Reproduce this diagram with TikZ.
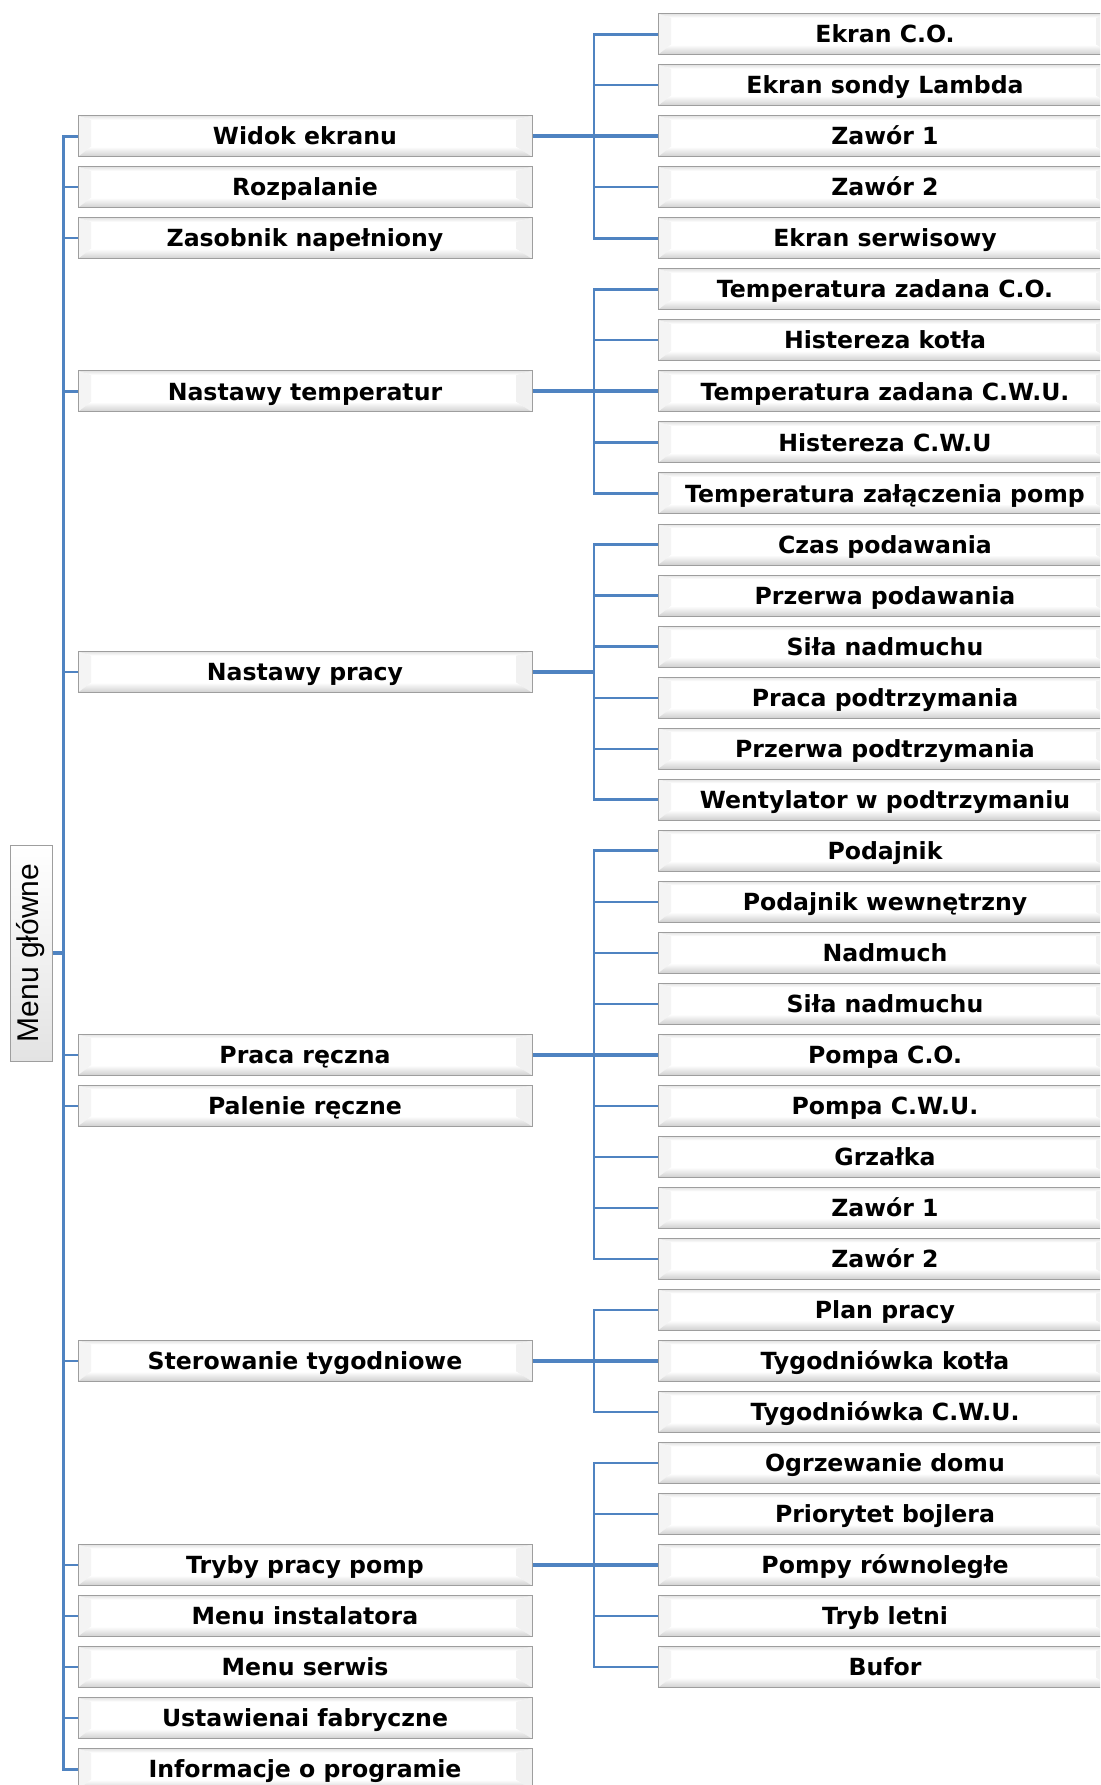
\documentclass[tikz,border=0pt]{standalone}
\usepackage{fontspec}
\setmainfont{DejaVu Sans}
\newfontfamily\menufont{Liberation Sans}
\usetikzlibrary{calc}
\definecolor{linkblue}{RGB}{79,131,193}
\definecolor{boxborder}{RGB}{158,158,158}
\tikzset{
  bevel/.style={draw=boxborder, line width=0.5pt, fill=white, minimum height=20.5pt,
    inner sep=0pt, text height=8.6pt, text depth=0pt, text=black,
    font=\fontsize{11.8}{14}\selectfont\bfseries,
    path picture={
      \path (path picture bounding box.north west) coordinate (pNW)
            (path picture bounding box.north east) coordinate (pNE)
            (path picture bounding box.south west) coordinate (pSW)
            (path picture bounding box.south east) coordinate (pSE);
      \fill[gray!9] (pNW) -- ($(pNW)+(6.5pt,-2pt)$) -- ($(pSW)+(6.5pt,5pt)$) -- (pSW) -- cycle;
      \fill[gray!11] (pNE) -- ($(pNE)+(-8pt,-2pt)$) -- ($(pSE)+(-8pt,5pt)$) -- (pSE) -- cycle;
      \shade[top color=gray!22, bottom color=white] (pNW) -- (pNE) -- ($(pNE)+(-8pt,-2pt)$) -- ($(pNW)+(6.5pt,-2pt)$) -- cycle;
      \shade[top color=white, bottom color=gray!38] (pSW) -- ($(pSW)+(6.5pt,5pt)$) -- ($(pSE)+(-8pt,5pt)$) -- (pSE) -- cycle;
    }},
  leftbox/.style={bevel, minimum width=227pt},
  rightbox/.style={bevel, minimum width=227pt},
  menubox/.style={draw=boxborder, line width=0.5pt, inner sep=0pt,
    minimum width=108pt, minimum height=21pt, top color=white, bottom color=gray!22,
    font=\menufont\fontsize{15}{18}\selectfont, text=black},
  thinlink/.style={draw=linkblue, line width=1.1pt},
  trunklink/.style={draw=linkblue, line width=1.3pt},
  thicklink/.style={draw=linkblue, line width=2pt},
}
\begin{document}
\begin{tikzpicture}[x=0.5pt,y=-0.5pt]
\useasboundingbox (0,0) rectangle (1100,1785);
\clip (0,0) rectangle (1100,1785);
\fill[white] (0,0) rectangle (1100,1785);
\coordinate (lt) at (63.5,0);
\coordinate (rt) at (594,0);
% right column
\foreach \i/\t in {0/Ekran C.O., 1/Ekran sondy Lambda, 2/Zawór 1, 3/Zawór 2, 4/Ekran serwisowy,
  5/Temperatura zadana C.O., 6/Histereza kotła, 7/Temperatura zadana C.W.U., 8/Histereza C.W.U,
  9/Temperatura załączenia pomp, 10/Czas podawania, 11/Przerwa podawania, 12/Siła nadmuchu,
  13/Praca podtrzymania, 14/Przerwa podtrzymania, 15/Wentylator w podtrzymaniu, 16/Podajnik,
  17/Podajnik wewnętrzny, 18/Nadmuch, 19/Siła nadmuchu, 20/Pompa C.O., 21/Pompa C.W.U.,
  22/Grzałka, 23/Zawór 1, 24/Zawór 2, 25/Plan pracy, 26/Tygodniówka kotła,
  27/Tygodniówka C.W.U., 28/Ogrzewanie domu, 29/Priorytet bojlera, 30/Pompy równoległe,
  31/Tryb letni, 32/Bufor}
  \node[rightbox] (r\i) at (885,{34.2+51.03*\i}) {\t};
% left column
\foreach \i/\n/\t in {2/l2/Widok ekranu, 3/l3/Rozpalanie, 4/l4/Zasobnik napełniony,
  7/l7/Nastawy temperatur, 12.5/lnp/Nastawy pracy, 20/l20/Praca ręczna,
  21/l21/Palenie ręczne, 26/l26/Sterowanie tygodniowe, 30/l30/Tryby pracy pomp,
  31/l31/Menu instalatora, 32/l32/Menu serwis, 33/l33/Ustawienai fabryczne,
  34/l34/Informacje o programie}
  \node[leftbox] (\n) at (305,{34.2+51.03*\i}) {\t};
% root
\node[menubox, rotate=90] (menu) at (31,953) {Menu główne};
% left trunk
\draw[trunklink] (l2.west) -- (l2.west -| lt) -- (l34.west -| lt) -- (l34.west);
\foreach \n in {l3,l4,l7,lnp,l20,l21,l26,l30,l31,l32,l33}
  \draw[thinlink] (\n.west) -- (\n.west -| lt);
\draw[thicklink] (menu.south) -- (menu.south -| lt);
% group 1
\draw[trunklink] (r0.west) -- (r0.west -| rt) -- (r4.west -| rt) -- (r4.west);
\foreach \n in {r1,r2,r3} \draw[thinlink] (\n.west) -- (\n.west -| rt);
\draw[thicklink] (l2.east) -- (r2.west);
% group 2
\draw[trunklink] (r5.west) -- (r5.west -| rt) -- (r9.west -| rt) -- (r9.west);
\foreach \n in {r6,r7,r8} \draw[thinlink] (\n.west) -- (\n.west -| rt);
\draw[thicklink] (l7.east) -- (r7.west);
% group 3
\draw[trunklink] (r10.west) -- (r10.west -| rt) -- (r15.west -| rt) -- (r15.west);
\foreach \n in {r11,r12,r13,r14} \draw[thinlink] (\n.west) -- (\n.west -| rt);
\draw[thicklink] (lnp.east) -- (lnp.east -| rt);
% group 4
\draw[trunklink] (r16.west) -- (r16.west -| rt) -- (r24.west -| rt) -- (r24.west);
\foreach \n in {r17,r18,r19,r20,r21,r22,r23} \draw[thinlink] (\n.west) -- (\n.west -| rt);
\draw[thicklink] (l20.east) -- (r20.west);
% group 5
\draw[trunklink] (r25.west) -- (r25.west -| rt) -- (r27.west -| rt) -- (r27.west);
\draw[thinlink] (r26.west) -- (r26.west -| rt);
\draw[thicklink] (l26.east) -- (r26.west);
% group 6
\draw[trunklink] (r28.west) -- (r28.west -| rt) -- (r32.west -| rt) -- (r32.west);
\foreach \n in {r29,r30,r31} \draw[thinlink] (\n.west) -- (\n.west -| rt);
\draw[thicklink] (l30.east) -- (r30.west);
\end{tikzpicture}
\end{document}
